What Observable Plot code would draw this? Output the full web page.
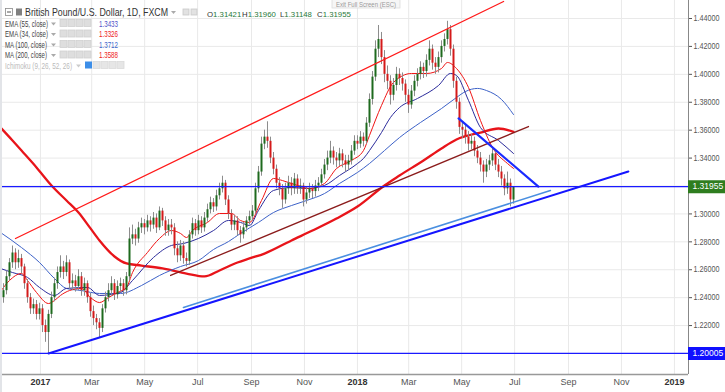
<!DOCTYPE html>
<html><head><meta charset="utf-8">
<script src="https://cdn.jsdelivr.net/npm/d3@7"></script>
<script src="https://cdn.jsdelivr.net/npm/@observablehq/plot@0.6"></script>
<style>
html,body{margin:0;padding:0;background:#fff;}
#wrap{position:relative;width:725px;height:392px;overflow:hidden;font-family:"Liberation Sans",Arial,sans-serif;}
#wrap svg{position:absolute;left:0;top:0;}
</style></head><body><div id="wrap"></div>
<script>
// ---- candle data (one candle ≈ 3.45 calendar days) ----
const barStart = Date.UTC(2016, 10, 19, 11);
const barStepDays = 3.4543;
const firstOpen = 1.240;
const closes = [1.245,1.255,1.265,1.272,1.265,1.268,1.262,1.250,1.240,1.232,
 1.235,1.228,1.232,1.220,1.215,1.228,1.240,1.250,1.258,1.262,
 1.258,1.265,1.250,1.252,1.248,1.255,1.245,1.250,1.240,1.230,
 1.225,1.222,1.218,1.232,1.240,1.245,1.250,1.242,1.248,1.250,
 1.245,1.255,1.282,1.285,1.282,1.290,1.293,1.290,1.295,1.292,
 1.297,1.290,1.302,1.295,1.288,1.292,1.290,1.275,1.270,1.277,
 1.268,1.266,1.285,1.293,1.288,1.295,1.290,1.297,1.303,1.308,
 1.305,1.313,1.318,1.322,1.310,1.300,1.292,1.295,1.288,1.285,
 1.290,1.295,1.298,1.302,1.318,1.330,1.350,1.355,1.352,1.340,
 1.332,1.322,1.318,1.310,1.318,1.322,1.318,1.325,1.318,1.320,
 1.310,1.315,1.318,1.316,1.320,1.322,1.328,1.335,1.340,1.345,
 1.340,1.338,1.343,1.338,1.335,1.338,1.345,1.352,1.350,1.355,
 1.352,1.365,1.382,1.398,1.418,1.425,1.412,1.400,1.395,1.385,
 1.392,1.400,1.397,1.393,1.385,1.378,1.388,1.395,1.400,1.405,
 1.402,1.410,1.418,1.408,1.405,1.412,1.420,1.425,1.432,1.418,
 1.395,1.380,1.362,1.360,1.355,1.350,1.352,1.345,1.340,1.335,
 1.330,1.335,1.338,1.343,1.335,1.330,1.325,1.318,1.322,1.310,
 1.3195];
const highs = [1.250,1.259,1.268,1.277,1.275,1.274,1.271,1.264,1.253,1.243,
 1.239,1.238,1.236,1.235,1.224,1.231,1.244,1.254,1.262,1.270,
 1.266,1.270,1.267,1.257,1.256,1.260,1.258,1.254,1.252,1.243,
 1.234,1.228,1.225,1.235,1.244,1.250,1.255,1.253,1.252,1.254,
 1.253,1.258,1.290,1.292,1.289,1.294,1.297,1.296,1.299,1.298,
 1.301,1.300,1.305,1.304,1.298,1.296,1.296,1.293,1.280,1.281,
 1.280,1.272,1.288,1.297,1.296,1.299,1.298,1.301,1.307,1.312,
 1.311,1.317,1.322,1.327,1.324,1.313,1.303,1.299,1.298,1.291,
 1.294,1.298,1.302,1.306,1.322,1.334,1.355,1.360,1.366,1.355,
 1.344,1.335,1.326,1.321,1.322,1.327,1.326,1.329,1.328,1.325,
 1.322,1.319,1.322,1.321,1.324,1.326,1.332,1.339,1.345,1.352,
 1.348,1.344,1.347,1.346,1.342,1.342,1.349,1.356,1.356,1.359,
 1.358,1.369,1.386,1.402,1.424,1.435,1.430,1.417,1.406,1.399,
 1.397,1.405,1.404,1.401,1.396,1.389,1.392,1.399,1.404,1.409,
 1.408,1.414,1.424,1.421,1.412,1.416,1.424,1.429,1.438,1.435,
 1.421,1.398,1.383,1.366,1.364,1.359,1.357,1.355,1.349,1.344,
 1.338,1.339,1.342,1.347,1.346,1.339,1.334,1.328,1.330,1.325,
 1.3196];
const lows = [1.236,1.242,1.252,1.261,1.260,1.261,1.257,1.246,1.236,1.228,
 1.228,1.224,1.224,1.215,1.208,1.200,1.225,1.237,1.246,1.254,
 1.253,1.255,1.246,1.245,1.244,1.245,1.241,1.241,1.236,1.226,
 1.220,1.217,1.211,1.215,1.229,1.237,1.241,1.238,1.239,1.244,
 1.241,1.242,1.252,1.278,1.277,1.279,1.286,1.285,1.287,1.287,
 1.289,1.286,1.288,1.291,1.284,1.284,1.285,1.270,1.265,1.266,
 1.264,1.262,1.263,1.282,1.284,1.285,1.286,1.287,1.294,1.300,
 1.301,1.302,1.310,1.315,1.306,1.296,1.288,1.288,1.284,1.279,
 1.282,1.287,1.292,1.295,1.300,1.315,1.327,1.346,1.347,1.336,
 1.328,1.318,1.313,1.304,1.307,1.314,1.313,1.314,1.314,1.314,
 1.305,1.307,1.311,1.311,1.312,1.316,1.319,1.325,1.331,1.336,
 1.335,1.333,1.334,1.333,1.330,1.331,1.335,1.342,1.346,1.347,
 1.348,1.350,1.362,1.378,1.395,1.412,1.407,1.394,1.389,1.378,
 1.381,1.388,1.392,1.388,1.380,1.372,1.375,1.384,1.391,1.396,
 1.397,1.398,1.406,1.403,1.400,1.401,1.408,1.416,1.421,1.413,
 1.390,1.375,1.357,1.354,1.350,1.345,1.346,1.341,1.336,1.330,
 1.322,1.326,1.331,1.334,1.331,1.326,1.320,1.313,1.314,1.305,
 1.307];

// ---- indicator lines [bar index, value] ----
const ema34 = [[-1,1.2444],[2,1.2523],[6,1.2573],[8,1.2523],[11,1.2437],[15,1.2358],[17,1.2380],[19,1.2416],[22,1.2451],[26,1.2466],[29,1.2401],[32,1.2365],[35,1.2401],[38,1.2437],[41,1.2473],[43,1.2580],[48,1.2724],[52,1.2824],[56,1.2881],[59,1.2860],[61,1.2831],[63,1.2881],[68,1.2939],[72,1.3003],[76,1.3003],[79,1.2953],[82,1.2939],[86,1.3096],[90,1.3254],[93,1.3239],[98,1.3204],[102,1.3182],[107,1.3218],[111,1.3325],[116,1.3383],[120,1.3454],[122,1.3562],[126,1.3777],[130,1.3942],[136,1.4006],[141,1.4006],[146,1.4042],[148,1.4085],[151,1.4042],[155,1.3906],[159,1.3669],[163,1.3476],[168,1.3361],[170,1.3326]];
const ema55 = [[-1,1.2609],[3,1.2580],[8,1.2545],[12,1.2473],[17,1.2416],[21,1.2466],[28,1.2473],[32,1.2416],[39,1.2437],[43,1.2523],[50,1.2688],[56,1.2774],[60,1.2788],[65,1.2824],[70,1.2881],[75,1.2953],[79,1.2939],[82,1.2917],[85,1.3025],[90,1.3168],[96,1.3189],[101,1.3182],[107,1.3204],[112,1.3275],[118,1.3361],[120,1.3397],[122,1.3454],[126,1.3583],[129,1.3691],[132,1.3762],[138,1.3827],[145,1.3920],[149,1.4006],[151,1.3992],[155,1.3813],[159,1.3619],[165,1.3526],[170,1.3433]];
const ma100 = [[-1,1.2867],[6,1.2759],[12,1.2652],[17,1.2537],[21,1.2466],[26,1.2451],[32,1.2430],[39,1.2430],[46,1.2487],[52,1.2559],[59,1.2623],[65,1.2666],[70,1.2745],[75,1.2802],[79,1.2860],[85,1.2939],[90,1.3010],[96,1.3060],[101,1.3096],[107,1.3146],[112,1.3218],[118,1.3297],[122,1.3361],[127,1.3454],[132,1.3547],[139,1.3655],[146,1.3755],[151,1.3834],[154,1.3877],[158,1.3899],[161,1.3884],[166,1.3820],[170,1.3712]];
const ma200 = [[-1,1.3619],[3,1.3526],[6,1.3454],[11,1.3333],[16,1.3204],[21,1.3096],[25,1.3010],[29,1.2896],[32,1.2810],[37,1.2695],[41,1.2645],[46,1.2630],[53,1.2609],[61,1.2573],[67,1.2552],[72,1.2595],[78,1.2652],[82,1.2681],[87,1.2716],[96,1.2810],[103,1.2881],[111,1.2967],[118,1.3053],[127,1.3204],[132,1.3275],[140,1.3383],[146,1.3469],[151,1.3533],[159,1.3583],[165,1.3612],[170,1.3588]];

// ---- drawn trend lines [bar index, price] ----
const channelUpper = [[4,1.2824],[166.7,1.4522]];
const channelLower = [[55.7,1.2559],[175,1.3626]];
const supportMain = [[15,1.2000],[208.3,1.3304]];
const supportLight = [[60,1.2330],[182.3,1.3168]];
const resistance = [[151.7,1.3684],[178.3,1.3196]];
const levels = [1.31955, 1.20005];
const levelColors = ["#2f7d1f", "#1010ff"];

// ---- axes ----
const yTicks = [1.22,1.24,1.26,1.28,1.30,1.34,1.36,1.38,1.40,1.42,1.44];
const yGrid = [1.20,1.22,1.24,1.26,1.28,1.30,1.32,1.34,1.36,1.38,1.40,1.42,1.44];
const xTickDates = ["2017-01-01","2017-03-01","2017-05-01","2017-07-01","2017-09-01","2017-11-01","2018-01-01","2018-03-01","2018-05-01","2018-07-01","2018-09-01","2018-11-01","2019-01-01"];
const xTickLabels = ["2017","Mar","May","Jul","Sep","Nov","2018","Mar","May","Jul","Sep","Nov","2019"];

// ---- legend ----
const legendNames = ["EMA (55, close)","EMA (34, close)","MA (100, close)","MA (200, close)"];
const legendValues = ["1.3433","1.3326","1.3712","1.3588"];
const legendColors = ["#5050c8","#ee2222","#3a66cc","#ee2222"];
const ohlcLabels = ["O","H","L","C"];
const ohlcValues = ["1.31421","1.31960","1.31148","1.31955"];

const barDate = i => new Date(barStart + i * barStepDays * 864e5);
const bars = closes.map((c, i) => ({date: barDate(i), open: i ? closes[i-1] : firstOpen, close: c, high: highs[i], low: lows[i]}));
const up = bars.filter(d => d.close >= d.open);
const down = bars.filter(d => d.close < d.open);
const pt = d => ({date: barDate(d[0]), v: d[1]});
const ticksX = xTickDates.map((s, i) => ({date: new Date(s + "T00:00:00Z"), label: xTickLabels[i], bold: /^\d{4}$/.test(xTickLabels[i])}));

const xDomain = [new Date(Date.UTC(2016,10,16)), new Date(Date.UTC(2019,0,17,5))];
const xBeyond = new Date(xDomain[1].getTime() + 45 * 864e5);
const yDomain = [1.18495, 1.4529];
const levelData = levels.map((v, i) => ({v, color: levelColors[i]}));

const line = (arr, stroke, w, curve) => Plot.line(arr.map(pt), {x:"date", y:"v", stroke, strokeWidth:w, curve: curve || "linear"});

const plot = Plot.plot({
  width: 725, height: 392,
  marginLeft: 0, marginRight: 37, marginTop: 0, marginBottom: 18,
  x: {type:"utc", domain: xDomain, axis: null},
  y: {domain: yDomain, axis: null},
  style: {background:"transparent", color:"#555", fontFamily:"Liberation Sans, Arial, sans-serif"},
  marks: [
    Plot.gridY(yGrid, {stroke:"#e9e9e9", strokeOpacity:1}),
    Plot.gridX(ticksX.map(d => d.date), {stroke:"#e9e9e9", strokeOpacity:1}),
    line(ma200, "#e8141a", 2.3, "monotone-x"),
    line(ma100, "#3d62c8", 1, "monotone-x"),
    line(ema55, "#2c2c9c", 1, "monotone-x"),
    line(ema34, "#f01515", 1, "monotone-x"),
    Plot.ruleX(bars, {x:"date", y1:"low", y2:"high", stroke:"#8c8c8c", strokeWidth:1}),
    Plot.ruleX(up, {x:"date", y1:"open", y2:"close", stroke:"#1e6a1e", strokeWidth:2}),
    Plot.ruleX(down, {x:"date", y1:"open", y2:"close", stroke:"#d41a1a", strokeWidth:2}),
    line(channelUpper, "#ff1a1a", 1.3),
    line(channelLower, "#8b1c1c", 1.3),
    line(supportLight, "#4a8fe0", 1.6),
    line(supportMain, "#1515ff", 2),
    line(resistance, "#1a2bff", 2.2),
    Plot.ruleY(levels, {stroke:"#1a1aff", strokeWidth:1.2}),
    Plot.ruleX([xDomain[1]], {stroke:"#888", strokeWidth:1}),
    Plot.ruleY([yDomain[0]], {stroke:"#999", strokeWidth:1.5}),
    Plot.axisY(yTicks, {anchor:"right", tickSize:3, tickPadding:2, tickFormat: d => d.toFixed(5), fontSize:8.5}),
    Plot.text(ticksX.filter(d => !d.bold), {x:"date", y: () => yDomain[0], text:"label", dy: 8, fontSize: 9, fill:"#555"}),
    Plot.text(ticksX.filter(d => d.bold), {x:"date", y: () => yDomain[0], text:"label", dy: 8, fontSize: 9, fill:"#333", fontWeight:"bold"}),
    ...levelData.map(d => Plot.ruleY([d], {y:"v", x1: () => xDomain[1], x2: () => xBeyond, stroke: d.color, strokeWidth: 13})),
    Plot.text(levelData, {x: () => xDomain[1], y:"v", text: d => d.v.toFixed(5), dx: 4, textAnchor:"start", fill:"#fff", fontSize: 8.5, ariaLabel:"level-label"})
  ]
});

const wrap = document.getElementById("wrap");
wrap.appendChild(plot);
// narrow the axis label glyphs like the reference
d3.select(plot).selectAll('g[aria-label="y-axis tick label"] text, g[aria-label="level-label"] text')
  .attr("textLength", 26).attr("lengthAdjust", "spacingAndGlyphs");

// header / legend overlay
const ov = d3.select(wrap).append("svg").attr("width", 725).attr("height", 80).style("pointer-events","none");
const T = (x, y, s, size, fill, len, weight) => {
  const t = ov.append("text").attr("x", x).attr("y", y).attr("font-size", size).attr("fill", fill)
    .attr("font-family", "Liberation Sans, Arial, sans-serif").text(s);
  if (len) t.attr("textLength", len).attr("lengthAdjust", "spacingAndGlyphs");
  if (weight) t.attr("font-weight", weight);
  return t;
};
const box = (x, y, w, h, fill, stroke) => ov.append("rect").attr("x", x).attr("y", y).attr("width", w).attr("height", h).attr("fill", fill).attr("stroke", stroke || "none").attr("stroke-width", 0.8);
const tri = (x, y, fill) => ov.append("path").attr("d", `M${x},${y}h5l-2.5,3z`).attr("fill", fill);

// exit full screen tab
box(332, -1, 68, 9, "#f6f6f6", "#dddddd");
T(336, 6.5, "Exit Full Screen (ESC)", 7, "#9a9a9a", 60);
// title row
box(5.5, 8.5, 7, 7, "#fff", "#8a8a8a");
ov.append("line").attr("x1", 7).attr("x2", 11).attr("y1", 12).attr("y2", 12).attr("stroke", "#555").attr("stroke-width", 1);
box(16, 8.5, 6, 7, "#808080");
T(25, 16, "British Pound/U.S. Dollar, 1D, FXCM", 10.5, "#333", 143);
tri(171, 11, "#aaa");
box(183, 9, 6, 6, "#e2e2e2", "#c8c8c8");
box(191, 9, 6, 6, "#e2e2e2", "#c8c8c8");
// O/H/L/C values, each in its own slot at natural width
const ohlcX = [207, 242, 280, 317];
ohlcLabels.forEach((l, i) => {
  const t = ov.append("text").attr("x", ohlcX[i]).attr("y", 16.5).attr("font-size", 7.8)
    .attr("font-family", "Liberation Sans, Arial, sans-serif");
  t.append("tspan").attr("fill", "#333").text(l);
  t.append("tspan").attr("fill", "#2a7a3a").text(ohlcValues[i]);
});
// indicator legend rows
const rowY = [26.5, 37, 47.5, 58];
legendNames.forEach((n, i) => {
  T(5, rowY[i], n, 8.5, "#444", i < 2 ? 43 : 42);
  tri(51, rowY[i] - 4, "#aaa");
  [60, 68, 76, 84].forEach(x => box(x, rowY[i] - 7, 7, 7, "#dedede", "#d0d0d0"));
  T(99, rowY[i], legendValues[i], 8.5, legendColors[i], 19);
});
T(5, 68.5, "Ichimoku (9, 26, 52, 26)", 8.5, "#bbbbbb", 67);
tri(76, 64.5, "#ccc");
box(85, 61.5, 7, 7, "#3d8ee8");
[93, 101, 109, 117].forEach(x => box(x, 61.5, 7, 7, "#e6e6e6", "#dadada"));
// window border
d3.select(plot).append("line").attr("x1", 1).attr("x2", 1).attr("y1", 0).attr("y2", 392).attr("stroke", "#e2e4e8").attr("stroke-width", 2);
</script></body></html>
